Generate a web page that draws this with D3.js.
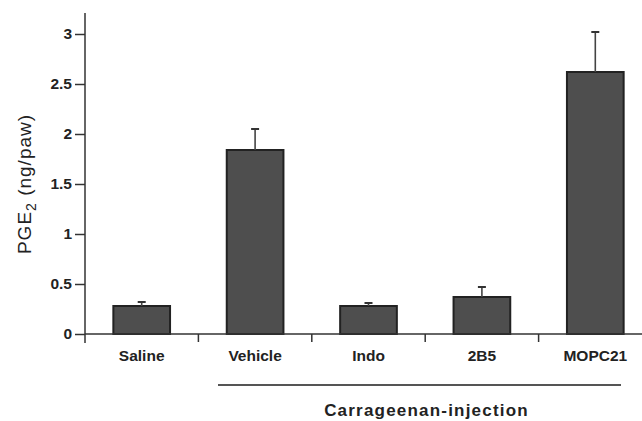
<!DOCTYPE html>
<html><head><meta charset="utf-8">
<script src="https://cdn.jsdelivr.net/npm/d3@7"></script>
<style>body{margin:0;background:#fff}svg{display:block}</style>
</head><body><svg id="c" width="642" height="421"></svg>
<script>
const categories = ["Saline","Vehicle","Indo","2B5","MOPC21"];
const values = [0.28, 1.84, 0.28, 0.37, 2.62];
const errors = [0.04, 0.21, 0.03, 0.10, 0.40];
const yTicks = [0, 0.5, 1, 1.5, 2, 2.5, 3];
const yTickLabels = ["0","0.5","1","1.5","2","2.5","3"];
const groupLabel = "Carrageenan-injection";

const svg = d3.select("#c");
const font = "'Liberation Sans', Arial, Helvetica, sans-serif";
const x = d3.scaleBand().domain(categories).range([85, 652]).paddingInner(0.5).paddingOuter(0.25);
const y = d3.scaleLinear().domain([0, 3]).range([334, 34]);

// bars
svg.selectAll("rect.bar").data(categories).enter().append("rect")
  .attr("x", d => x(d)).attr("width", x.bandwidth())
  .attr("y", (d,i) => y(values[i])).attr("height", (d,i) => y(0) - y(values[i]))
  .attr("fill", "#4e4e4e").attr("stroke", "#222").attr("stroke-width", 2);

// error bars
categories.forEach((c, i) => {
  const cx = x(c) + x.bandwidth()/2;
  svg.append("line").attr("x1", cx).attr("x2", cx)
    .attr("y1", y(values[i])).attr("y2", y(values[i] + errors[i]))
    .attr("stroke", "#444").attr("stroke-width", 1.6);
  svg.append("line").attr("x1", cx-4).attr("x2", cx+4)
    .attr("y1", y(values[i] + errors[i])).attr("y2", y(values[i] + errors[i]))
    .attr("stroke", "#333").attr("stroke-width", 2);
});

// y axis
svg.append("line").attr("x1", 85).attr("x2", 85).attr("y1", 13).attr("y2", 343)
  .attr("stroke", "#333").attr("stroke-width", 1.5);
const yAxis = d3.axisLeft(y).tickValues(yTicks).tickFormat((d,i) => yTickLabels[i]).tickSize(10).tickPadding(3);
const gy = svg.append("g").attr("transform", "translate(85,0)").call(yAxis);
gy.select(".domain").remove();
gy.selectAll(".tick line").attr("stroke", "#333").attr("stroke-width", 1.5);
gy.selectAll(".tick text").attr("font-family", font).attr("font-size", 15.5).attr("font-weight", "bold").attr("fill", "#222");

// x axis baseline
svg.append("line").attr("x1", 85).attr("x2", 642).attr("y1", y(0)).attr("y2", y(0))
  .attr("stroke", "#333").attr("stroke-width", 1.5);
// boundary ticks
const step = x.step();
categories.slice(1).forEach((c) => {
  const bx = x(c) - (step - x.bandwidth())/2;
  svg.append("line").attr("x1", bx).attr("x2", bx).attr("y1", y(0)).attr("y2", y(0)+8)
    .attr("stroke", "#333").attr("stroke-width", 1.5);
});
// category labels
svg.selectAll("text.cat").data(categories).enter().append("text")
  .attr("x", d => x(d) + x.bandwidth()/2).attr("y", 361)
  .attr("text-anchor", "middle").attr("font-family", font).attr("font-size", 15.5)
  .attr("font-weight", "bold").attr("fill", "#222").text(d => d);

// group line and label
svg.append("line").attr("x1", 218).attr("x2", 621).attr("y1", 385).attr("y2", 385)
  .attr("stroke", "#555").attr("stroke-width", 2);
svg.append("text").attr("x", 426.5).attr("y", 416).attr("text-anchor", "middle")
  .attr("font-family", font).attr("font-size", 17).attr("font-weight", "bold")
  .attr("letter-spacing", 1.2).attr("fill", "#222").text(groupLabel);

// y label
const yl = svg.append("text").attr("transform", "translate(31,184) rotate(-90)")
  .attr("text-anchor", "middle").attr("font-family", font).attr("font-size", 19)
  .attr("letter-spacing", 1).attr("fill", "#222");
yl.append("tspan").text("PGE");
yl.append("tspan").attr("dy", 5).attr("font-size", 14).text("2");
yl.append("tspan").attr("dy", -5).text(" (ng/paw)");
</script></body></html>
